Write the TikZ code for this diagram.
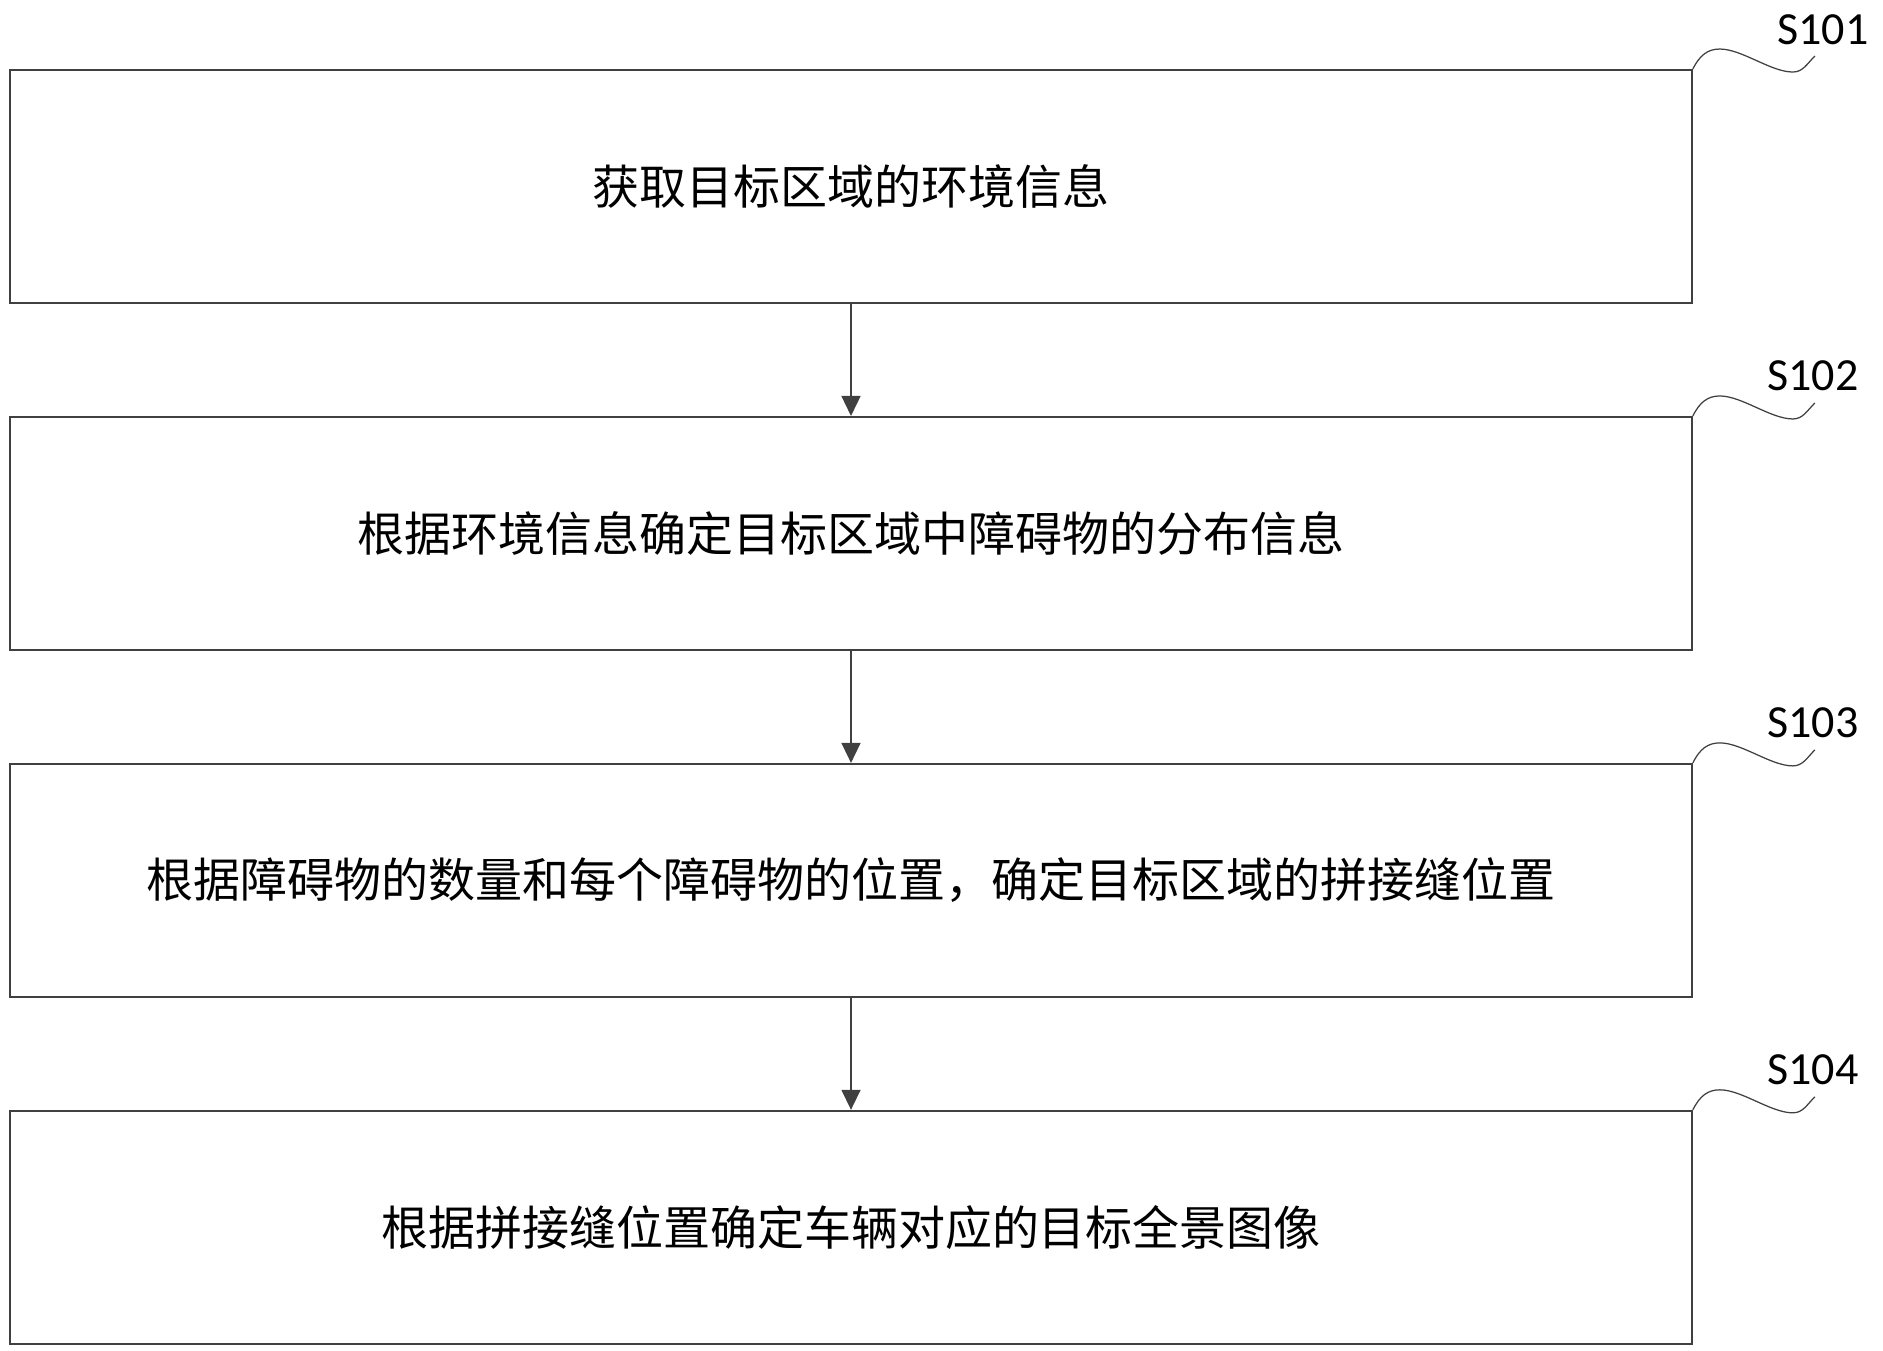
\documentclass[tikz,border=0pt]{standalone}
\usepackage{fontspec}
\setmainfont{Carlito}
\newfontfamily\cjk{Noto Sans CJK SC}
\usetikzlibrary{positioning,arrows.meta}
\definecolor{linegray}{HTML}{404040}
\tikzset{>={Triangle[length=0.4cm,width=0.38cm]}}

\begin{document}
\begin{tikzpicture}[x=0.02cm,y=-0.02cm]
        % one unit = one pixel of the 1883 x 1350 picture, y runs down
        \tikzstyle{stepbox}=[draw=linegray, line width=0.04cm, rectangle, minimum width=33.64cm, minimum height=4.66cm, inner sep=0pt, font=\cjk\fontsize{26.75pt}{30pt}\selectfont, node distance=6.94cm]
        \tikzstyle{steplabel}=[anchor=base west, inner sep=0pt, font=\fontsize{26.2pt}{30pt}\selectfont]
        \tikzstyle{every edge}=[draw=linegray, ->, line width=0.03cm]
        \useasboundingbox (0,0) rectangle (1883,1350);

        \node[stepbox] (S1) at (851,186.5) {获取目标区域的环境信息};
        \node[stepbox] (S2) [below of = S1] {根据环境信息确定目标区域中障碍物的分布信息};
        \draw (S1) edge (S2);
        \node[stepbox] (S3) [below of = S2] {根据障碍物的数量和每个障碍物的位置，确定目标区域的拼接缝位置};
        \draw (S2) edge (S3);
        \node[stepbox] (S4) [below of = S3] {根据拼接缝位置确定车辆对应的目标全景图像};
        \draw (S3) edge (S4);

        % step numbers with a wavy leader from the top right corner
        \foreach \s/\t/\dx in {S1/S101/84, S2/S102/74, S3/S103/74, S4/S104/74} {
                \draw[linegray, line width=0.025cm] (\s.north east)
                        .. controls +(7,-14) and +(-12,0) .. ++(27,-20)
                        .. controls +(22,0) and +(-22,0) .. ++(73,23)
                        .. controls +(10,0) and +(-8,8) .. ++(22,-16);
                \node[steplabel] (L\t) at ([shift={(\dx,-25)}]\s.north east) {\t};
        }
\end{tikzpicture}
\end{document}
